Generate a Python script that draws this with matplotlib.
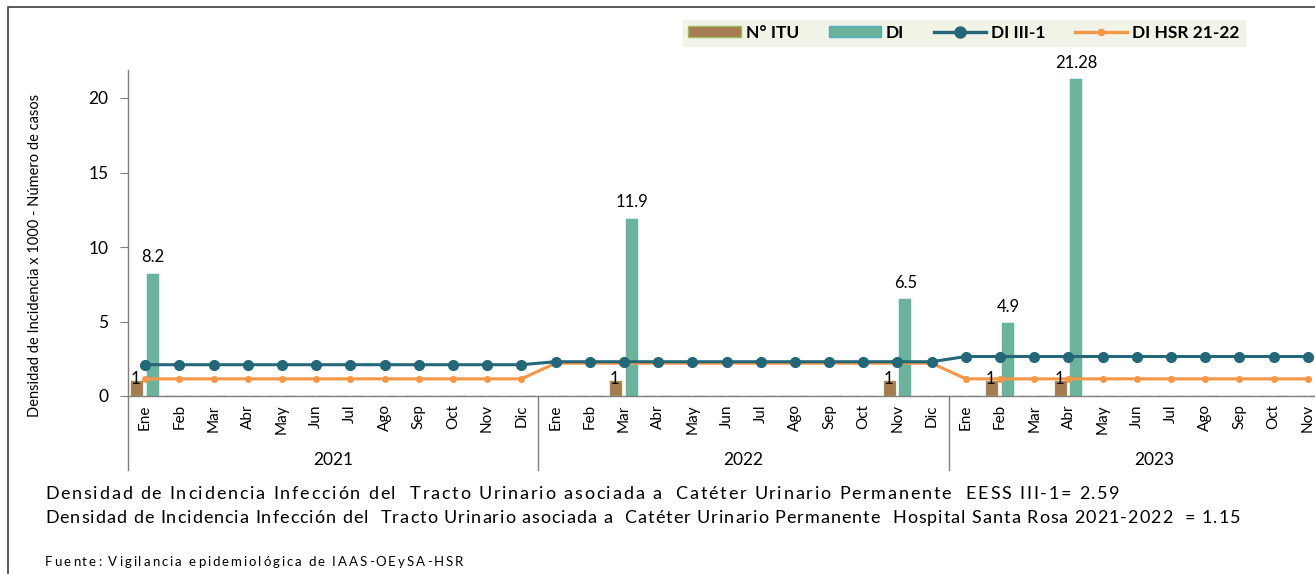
import matplotlib
matplotlib.use("Agg")
import matplotlib.pyplot as plt
from matplotlib.lines import Line2D
from matplotlib.patches import Patch, Rectangle

plt.rcParams["font.family"] = ["Lato", "DejaVu Sans"]

YEARS = ["2021", "2022", "2023"]
MONTHS = ["Ene", "Feb", "Mar", "Abr", "May", "Jun", "Jul", "Ago", "Sep", "Oct", "Nov", "Dic"]
months_per_year = [12, 12, 11]

# N° ITU (cases) and DI per month, Ene 2021 .. Nov 2023
itu = [1, 0, 0, 0, 0, 0, 0, 0, 0, 0, 0, 0,
       0, 0, 1, 0, 0, 0, 0, 0, 0, 0, 1, 0,
       0, 1, 0, 1, 0, 0, 0, 0, 0, 0, 0]
di = [8.2, 0, 0, 0, 0, 0, 0, 0, 0, 0, 0, 0,
      0, 0, 11.9, 0, 0, 0, 0, 0, 0, 0, 6.5, 0,
      0, 4.9, 0, 21.28, 0, 0, 0, 0, 0, 0, 0]
di_iii1_by_year = [2.1, 2.3, 2.65]
di_hsr_by_year = [1.15, 2.2, 1.15]

month_labels = []
di_iii1 = []
di_hsr = []
for y, n in enumerate(months_per_year):
    month_labels += MONTHS[:n]
    di_iii1 += [di_iii1_by_year[y]] * n
    di_hsr += [di_hsr_by_year[y]] * n

NOTE_1 = "Densidad de Incidencia Infección del  Tracto Urinario asociada a  Catéter Urinario Permanente  EESS III-1= 2.59"
NOTE_2 = "Densidad de Incidencia Infección del  Tracto Urinario asociada a  Catéter Urinario Permanente  Hospital Santa Rosa 2021-2022  = 1.15"
SOURCE = "Fuente: Vigilancia epidemiológica de IAAS-OEySA-HSR"

C_ITU = "#A57C52"
C_DI = "#6DB39B"
C_III = "#246779"
C_HSR = "#F79646"
GREY = "#7F7F7F"

W, H = 1315, 574
fig = plt.figure(figsize=(W / 100, H / 100), dpi=100, facecolor="white")
renderer = fig.canvas.get_renderer()


def text_width(s, size):
    t = fig.text(0, 0, s, fontsize=size)
    w = t.get_window_extent(renderer).width
    t.remove()
    return w


def spaced_text(x0, x1, ypix, s, size):
    """Draw s from pixel x0 to about x1 by spreading the letters (the original is letter-spaced)."""
    extra = (x1 - x0 - text_width(s, size)) / max(len(s) - 1, 1)
    bar = text_width("|", size)
    x = x0
    for ch in s:
        fig.text(x / W, 1 - ypix / H, ch, fontsize=size, ha="left", va="center")
        x += text_width(ch + "|", size) - bar + extra


# outer frame (cut off at right and bottom like the original)
fig.add_artist(Rectangle((8 / W, -0.05), 1.1, 1 - 7 / H + 0.05, transform=fig.transFigure,
                         fill=False, edgecolor="#404040", linewidth=1.2))

ncat = len(month_labels)
step = 34.2
ax_left, ax_right = 128, 128 + ncat * step
ax_bottom, ax_top = 396, 70
ax = fig.add_axes([ax_left / W, 1 - ax_bottom / H, (ax_right - ax_left) / W, (ax_bottom - ax_top) / H])
ax.set_facecolor("none")

x = list(range(ncat))
bw = 0.35
ax.bar([i - 0.23 for i in x], itu, width=bw, color=C_ITU, edgecolor="#9BBB59", linewidth=0.3, zorder=2)
ax.bar([i + 0.23 for i in x], di, width=bw, color=C_DI, edgecolor="#4BACC6", linewidth=0.3, zorder=2)
ax.plot(x, di_iii1, color=C_III, linewidth=2.2, marker="o", markersize=7, zorder=4)
ax.plot(x, di_hsr, color=C_HSR, linewidth=2.2, marker="o", markersize=4, zorder=3)

for i, v in enumerate(itu):
    if v:
        ax.text(i - 0.27, v + 0.15, f"{v}", ha="center", va="center", fontsize=12, color="#000000", zorder=5)
for i, v in enumerate(di):
    if v:
        ax.annotate(f"{v:g}", (i + 0.23, v), xytext=(0, 6), textcoords="offset points",
                    ha="center", va="bottom", fontsize=12, annotation_clip=False)

ax.set_xlim(-0.5, ncat - 0.5)
ax.set_ylim(0, 326 / 14.9)
ax.set_yticks([0, 5, 10, 15, 20])
ax.tick_params(axis="y", length=6, color=GREY, labelsize=12.5, pad=8)
ax.set_xticks(x)
ax.set_xticklabels(month_labels, rotation=90, fontsize=11)
ax.tick_params(axis="x", length=0, pad=6)
for s in ("top", "right"):
    ax.spines[s].set_visible(False)
for s in ("left", "bottom"):
    ax.spines[s].set_color(GREY)
    ax.spines[s].set_linewidth(1)

ax.set_ylabel("Densidad de Incidencia x 1000 - Número de casos", fontsize=10.5)
ax.yaxis.set_label_coords(-(128 - 42) / (ax_right - ax_left), (396 - 255) / 326)

# year group separators and labels
sep_depth = (470 - 396) / 326
start = 0
for y, n in enumerate(months_per_year):
    xs = start - 0.5
    ax.plot([xs, xs], [0, -sep_depth], transform=ax.get_xaxis_transform(), color=GREY,
            linewidth=1, clip_on=False)
    ax.text(start - 0.5 + n / 2 + (0.5 if y == 2 else 0), -(460 - 396) / 326, YEARS[y],
            transform=ax.get_xaxis_transform(), ha="center", va="center", fontsize=12.5)
    start += n

# legend
handles = [
    Patch(facecolor=C_ITU, edgecolor="#9BBB59"),
    Patch(facecolor=C_DI, edgecolor="#4BACC6"),
    Line2D([], [], color=C_III, linewidth=2.4, marker="o", markersize=8),
    Line2D([], [], color=C_HSR, linewidth=2.4, marker="o", markersize=4.5),
]
leg = fig.legend(handles, ["N° ITU", "DI", "DI III-1", "DI HSR 21-22"], ncol=4,
                 loc="center", bbox_to_anchor=(964 / W, 1 - 33 / H), frameon=True,
                 prop={"weight": "bold", "size": 12.5}, handlelength=3.0, handleheight=0.6,
                 handletextpad=0.3, columnspacing=1.7, borderpad=0.3, borderaxespad=0,
                 fancybox=False)
leg.get_frame().set_facecolor("#EEF0E1")
leg.get_frame().set_edgecolor("#EEF0E1")

spaced_text(45, 1120, 494, NOTE_1, 13)
spaced_text(45, 1240, 518, NOTE_2, 13)
spaced_text(45, 463, 562, SOURCE, 9.5)

fig.savefig("out.png", dpi=100, facecolor="white")
